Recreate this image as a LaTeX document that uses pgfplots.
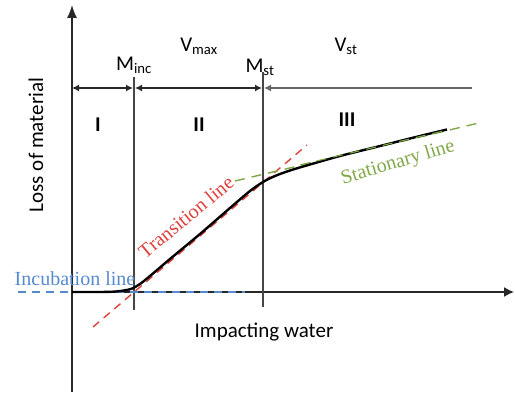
\documentclass[border=0pt]{standalone}
\usepackage{fontspec}
\setmainfont{Carlito}
\newfontfamily\serif{Liberation Serif}
\usepackage{pgfplots}
\pgfplotsset{compat=1.18}
\usetikzlibrary{arrows.meta}

\definecolor{incub}{RGB}{86,138,206}
\definecolor{trans}{RGB}{222,64,60}
\definecolor{stat}{RGB}{128,168,72}
\definecolor{axisgray}{RGB}{40,40,40}
\definecolor{sepgray}{RGB}{70,70,70}

\begin{document}
\begin{tikzpicture}
\begin{axis}[
  scale only axis, width=515pt, height=395pt,
  xmin=0, xmax=515, ymin=0, ymax=395, y dir=reverse,
  hide axis, clip=false,
]
% coordinate axes
\addplot[axisgray, line width=1.4pt, -{Latex[length=13pt,width=10pt]}] coordinates {(72,392) (72,5)};
\addplot[axisgray, line width=1.4pt, -{Latex[length=10pt,width=10pt]}] coordinates {(72,292) (514,292)};

% stage boundaries
\addplot[sepgray, line width=1.3pt] coordinates {(134,77) (134,310)};
\addplot[sepgray, line width=1.3pt] coordinates {(263,72) (263,307)};

% stage extents
\addplot[axisgray, line width=1.2pt, {Latex[length=7pt,width=7pt]}-{Latex[length=7pt,width=7pt]}] coordinates {(72,88) (133,88)};
\addplot[axisgray, line width=1.2pt, {Latex[length=7pt,width=7pt]}-{Latex[length=7pt,width=7pt]}] coordinates {(135,88) (262,88)};
\addplot[gray!80!black, line width=1.6pt, {Latex[length=7pt,width=7pt]}-] coordinates {(264,88) (472,88)};

% reference lines
\addplot[incub, line width=1.4pt, dash pattern=on 8pt off 6pt] coordinates {(18,292) (245,292)};
\addplot[trans, line width=1.4pt, dash pattern=on 8pt off 6pt] coordinates {(93,327) (307,145)};
\addplot[stat, line width=1.4pt, dash pattern=on 10pt off 7pt] coordinates {(235,181) (483,122)};

% cumulative erosion curve
\addplot[black, line width=2.4pt, smooth, tension=0.5] coordinates {
  (72,292) (100,292) (115,291.6) (125,290.3) (132,288.6) (140,284)
  (150,276) (170,259) (200,234) (230,208) (250,191) (263,182)
  (275,176) (290,170.5) (310,164.5) (340,156) (380,146) (420,136) (447,129.5)
};
\addplot[stat, line width=1.1pt, dash pattern=on 10pt off 7pt] coordinates {(300,164.9) (447,130.2)};

% labels
\node[font=\fontsize{21}{24}\selectfont] at (axis cs:134,65) {M\textsubscript{inc}};
\node[font=\fontsize{21}{24}\selectfont] at (axis cs:199,46) {V\textsubscript{max}};
\node[font=\fontsize{21}{24}\selectfont] at (axis cs:260,67) {M\textsubscript{st}};
\node[font=\fontsize{21}{24}\selectfont] at (axis cs:346,46) {V\textsubscript{st}};
\node[font=\fontsize{21}{24}\selectfont\bfseries] at (axis cs:98,125) {I};
\node[font=\fontsize{21}{24}\selectfont\bfseries] at (axis cs:199,125) {II};
\node[font=\fontsize{21}{24}\selectfont\bfseries] at (axis cs:347,120) {III};
\node[font=\fontsize{21}{24}\selectfont, rotate=90] at (axis cs:36,145) {Loss of material};
\node[font=\fontsize{21}{24}\selectfont] at (axis cs:264,332) {Impacting water};
\node[font=\fontsize{20}{24}\serif, text=incub] at (axis cs:75,279) {Incubation line};
\node[font=\fontsize{20}{24}\serif, text=trans, rotate=39.5, inner sep=0pt] at (axis cs:186,217) {Transition line};
\node[font=\fontsize{20}{24}\serif, text=stat, rotate=16.5, inner sep=0pt] at (axis cs:398,163) {Stationary line};
\end{axis}
\pgfresetboundingbox
\path (current axis.south west) rectangle (current axis.north east);
\end{tikzpicture}
\end{document}
